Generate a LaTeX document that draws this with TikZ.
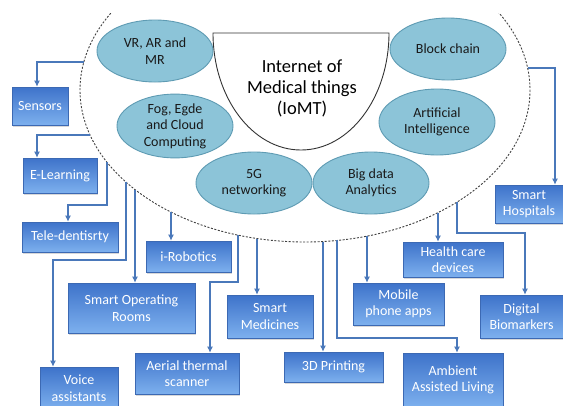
\documentclass[tikz,border=0pt]{standalone}
\usepackage{fontspec}
\setmainfont{Carlito}
\usetikzlibrary{calc,arrows.meta,shadows,shapes.geometric}

\definecolor{bubblefill}{HTML}{8CC4D8}
\definecolor{bubbleline}{HTML}{5E9BB3}
\definecolor{boxtop}{HTML}{7DB0EE}
\definecolor{boxbot}{HTML}{3E73CA}
\definecolor{boxline}{HTML}{3C69B3}
\definecolor{linkcol}{HTML}{4A78BA}
\definecolor{ringcol}{HTML}{404040}

% the picture runs with y pointing down, so the axis shading is given
% with its colours swapped to keep the light end on top
\tikzset{
  bubble/.style={ellipse, draw=bubbleline, line width=0.9pt, fill=bubblefill,
    minimum width=116pt, minimum height=62pt, inner sep=0pt, align=center,
    text=black!90, font=\fontsize{14}{16.5}\selectfont},
  topic/.style={rectangle, draw=boxline, line width=0.6pt,
    top color=boxbot, bottom color=boxtop, text=white, align=center,
    inner sep=0pt, font=\fontsize{14}{16.5}\selectfont,
    drop shadow={shadow xshift=1pt, shadow yshift=-1.5pt, opacity=0.3}},
  link/.style={draw=linkcol, line width=1.8pt,
    -{Latex[length=6pt,width=6pt]}},
  ring/.style={draw=ringcol, line width=0.9pt, dash pattern=on 2pt off 1.6pt}
}

\begin{document}
\begin{tikzpicture}[x=1pt,y=-1pt]
\useasboundingbox (0,0) rectangle (563,405);
\fill[white] (0,0) rectangle (563,405);

% outer dashed boundary of the IoMT domain
\begin{scope}
  \clip (0,13) rectangle (563,405);
  \draw[ring] (305,90) ellipse [x radius=225, y radius=152];
\end{scope}

% central half-disc
\draw[fill=white, draw=black!80, line width=0.9pt]
  (389,33) arc [start angle=0, end angle=180, x radius=88, y radius=117] -- cycle;
\node[align=center, font=\fontsize{18.5}{21}\selectfont] (iomt) at (302,88)
  {Internet of\\Medical things\\(IoMT)};

% enabling technologies
\node[bubble] (vr)    at (155,51)  {VR, AR and\\MR};
\node[bubble] (fog)   at (175,126) {Fog, Egde\\and Cloud\\Computing};
\node[bubble] (fiveg) at (254,183) {5G\\networking};
\node[bubble] (bigd)  at (371,183) {Big data\\Analytics};
\node[bubble] (block) at (448,49)  {Block chain};
\node[bubble, minimum height=66pt] (ai) at (437,122) {Artificial\\Intelligence};

% applications
\node[topic, minimum width=56pt,  minimum height=38pt] (sens)  at (40,106)    {Sensors};
\node[topic, minimum width=74pt,  minimum height=35pt] (elrn)  at (60,175.5)  {E-Learning};
\node[topic, minimum width=96pt,  minimum height=30pt] (tele)  at (70,237)    {Tele-dentisrty};
\node[topic, minimum width=85pt,  minimum height=31pt] (irob)  at (188.5,256.5) {i-Robotics};
\node[topic, minimum width=127pt, minimum height=50pt] (sor)   at (131.5,308) {Smart Operating\\Rooms};
\node[topic, minimum width=86pt,  minimum height=43pt] (smed)  at (270,316.5) {Smart\\Medicines};
\node[topic, minimum width=78pt,  minimum height=42pt] (voice) at (79,388)     {Voice\\assistants};
\node[topic, minimum width=104pt, minimum height=41pt] (aer)   at (187,373.5) {Aerial thermal\\scanner};
\node[topic, minimum width=99pt,  minimum height=30pt] (prnt)  at (333.5,367) {3D Printing};
\node[topic, minimum width=100pt, minimum height=54pt] (amb)   at (453,380)   {Ambient\\Assisted Living};
\node[topic, minimum width=91pt,  minimum height=42pt] (mob)   at (398.5,304) {Mobile\\phone apps};
\node[topic, minimum width=100pt, minimum height=35pt] (hcd)   at (453,259.5) {Health care\\devices};
\node[topic, minimum width=83pt,  minimum height=43pt] (dig)   at (521.5,316.5) {Digital\\Biomarkers};
\node[topic, minimum width=68pt,  minimum height=38pt] (hosp)  at (529,204)   {Smart\\Hospitals};

% start points on the dashed boundary
\coordinate (q1)  at ({305-225*sqrt(1-((62-90)/152)^2)},62);
\coordinate (q2)  at ({305-225*sqrt(1-((135-90)/152)^2)},135);
\coordinate (q14) at ({305+225*sqrt(1-((68-90)/152)^2)},68);
\foreach \n/\xx in {q3/107, q4/126, q5/135, q6/171, q7/238, q8/257,
                    q9/323, q10/337, q11/367, q12/438, q13/457}{
  \coordinate (\n) at ({\xx},{90+152*sqrt(1-((\xx-305)/225)^2)});
}

% connectors
\draw[link] (q1) -| ([xshift=-3pt]sens.north);
\draw[link] (q2) -| ([xshift=-23pt]elrn.north);
\draw[link] (q3) |- ([xshift=-2pt,yshift=17pt]tele.north) -- ([xshift=-2pt]tele.north);
\draw[link] (q4) |- ([xshift=-26pt,yshift=107pt]voice.north) -- ([xshift=-26pt]voice.north);
\draw[link] (q5) -- (q5 |- sor.north);
\draw[link] (q6) -- (q6 |- irob.north);
\draw[link] (q7) |- ([xshift=23pt,yshift=71pt]aer.north) -- ([xshift=23pt]aer.north);
\draw[link] (q8) -- (q8 |- smed.north);
\draw[link] (q9) -- (q9 |- prnt.north);
\draw[link] (q10) |- ([xshift=4pt,yshift=15pt]amb.north) -- ([xshift=4pt]amb.north);
\draw[link] (q11) -- (q11 |- mob.north);
\draw[link] (q12) -- (q12 |- hcd.north);
\draw[link] (q13) |- ([xshift=3.5pt,yshift=62pt]dig.north) -- ([xshift=3.5pt]dig.north);
\draw[link] (q14) -| ([xshift=26pt]hosp.north);
\end{tikzpicture}
\end{document}
